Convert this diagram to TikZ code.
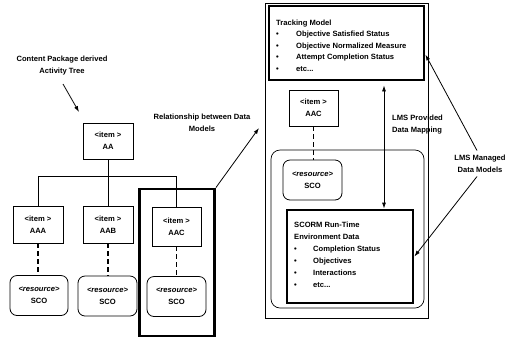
\documentclass[tikz,border=0pt]{standalone}
\usepackage{fontspec}
\setmainfont{Liberation Sans}
\usetikzlibrary{arrows.meta,calc}
\begin{document}
\begin{tikzpicture}[x=1pt,y=-1pt,
 every node/.style={font=\bfseries\fontsize{7.6}{12}\selectfont},
 itembox/.style={draw, line width=0.8pt, minimum width=50pt, minimum height=36pt, inner sep=0pt, align=center},
 resbox/.style={draw, line width=0.8pt, rounded corners=7pt, minimum width=58pt, minimum height=40pt, inner sep=0pt, align=center},
 thickbox/.style={draw, line width=2.8pt, inner sep=0pt},
 thinbox/.style={draw, line width=0.7pt, inner sep=0pt},
 conn/.style={line width=0.8pt},
 dashconn/.style={line width=1.6pt, dash pattern=on 5pt off 3pt},
 thindash/.style={line width=0.8pt, dash pattern=on 5pt off 3pt},
 arr/.style={line width=0.8pt, -{Latex[length=6pt,width=4pt]}},
 darr/.style={line width=0.8pt, {Latex[length=6pt,width=4pt]}-{Latex[length=6pt,width=4pt]}},
 lbl/.style={align=center, inner sep=0pt},
 listtxt/.style={anchor=north west, inner sep=0pt, align=left}
]
\useasboundingbox (0,0) rectangle (510,338);

% ---------- left: activity tree ----------
\node[lbl] (title) at (62,65.5) {Content Package derived\\Activity Tree};
\coordinate (titleend) at (79,112);
\draw[arr] (63,84) -- (titleend);

\node[itembox] (aa) at (108,141) {<item >\\AA};
\node[itembox, minimum height=37pt] (aaa) at (38,224.5) {<item >\\AAA};
\node[itembox, minimum height=37pt] (aab) at (108,224.5) {<item >\\AAB};
\node[itembox, minimum width=49pt, minimum height=39pt] (aac) at (176.5,226.5) {<item >\\AAC};

\node[resbox] (sco1) at (39,295.5) {\textit{<resource>}\\SCO};
\node[resbox, minimum width=59pt] (sco2) at (107.5,296) {\textit{<resource>}\\SCO};
\node[resbox, minimum width=59pt] (sco3) at (176.5,296.5) {\textit{<resource>}\\SCO};

\draw[conn] (aa.south) -- (aab.north);
\draw[conn] (aaa.north) -- ++(0,-29) -| (aac.north);
\draw[dashconn] (aaa.south) -- (sco1.north -| aaa.south);
\draw[dashconn] (aab.south) -- (sco2.north -| aab.south);
\draw[thindash] (aac.south) -- (sco3.north -| aac.south);

\node[thickbox, minimum width=75pt, minimum height=147pt] (hl) at (177,262.5) {};

\node[lbl] (rel) at (202,123) {Relationship between Data\\Models};
\coordinate (relend) at (259,128);
\draw[arr] (hl.north east) -- (relend);

% ---------- right: data models ----------
\node[thinbox, minimum width=163pt, minimum height=315pt] (outer) at (346.5,160.5) {};
\node[thickbox, minimum width=155pt, minimum height=74pt] (track) at (346.5,43) {};
\node[listtxt, font=\bfseries\fontsize{7.6}{11.5}\selectfont] (tracktxt) at (276,17) {%
\begin{tabular}{@{}p{20pt}@{}l@{}}
\multicolumn{2}{@{}l@{}}{Tracking Model}\\
\textbullet & Objective Satisfied Status\\
\textbullet & Objective Normalized Measure\\
\textbullet & Attempt Completion Status\\
\textbullet & etc...
\end{tabular}};

\node[itembox, minimum width=49pt] (aacr) at (313.5,108) {<item >\\AAC};
\node[thinbox, rounded corners=9pt, minimum width=153pt, minimum height=158pt] (inner) at (347.5,229) {};
\node[resbox, minimum width=59pt] (scor) at (312.5,180) {\textit{<resource>}\\SCO};
\draw[dashconn] (aacr.south) -- (scor.north -| aacr.south);

\node[thickbox, minimum width=126pt, minimum height=93pt] (scorm) at (350,256.5) {};
\node[listtxt, font=\bfseries\fontsize{7.6}{12}\selectfont] (scormtxt) at (294,218.5) {%
\begin{tabular}{@{}p{19pt}@{}l@{}}
\multicolumn{2}{@{}l@{}}{SCORM Run-Time}\\
\multicolumn{2}{@{}l@{}}{Environment Data}\\
\textbullet & Completion Status\\
\textbullet & Objectives\\
\textbullet & Interactions\\
\textbullet & etc...
\end{tabular}};

\coordinate (dmx) at (384,150);
\draw[darr, shorten <=4pt] (track.south -| dmx) -- (scorm.north -| dmx);

\node[anchor=west, align=left, inner sep=0pt] (lmsp) at (392,124.5) {LMS Provided\\Data Mapping};
\node[lbl] (lmsm) at (480,163.5) {LMS Managed\\Data Models};

\draw[arr] ([xshift=-3pt,yshift=4pt]lmsm.north) -- ($(track.north east)!0.65!(track.south east)$);
\draw[arr] ([xshift=-3pt,yshift=-4pt]lmsm.south) -- ($(scorm.north east)!0.5!(scorm.south east)$);
\end{tikzpicture}
\end{document}
